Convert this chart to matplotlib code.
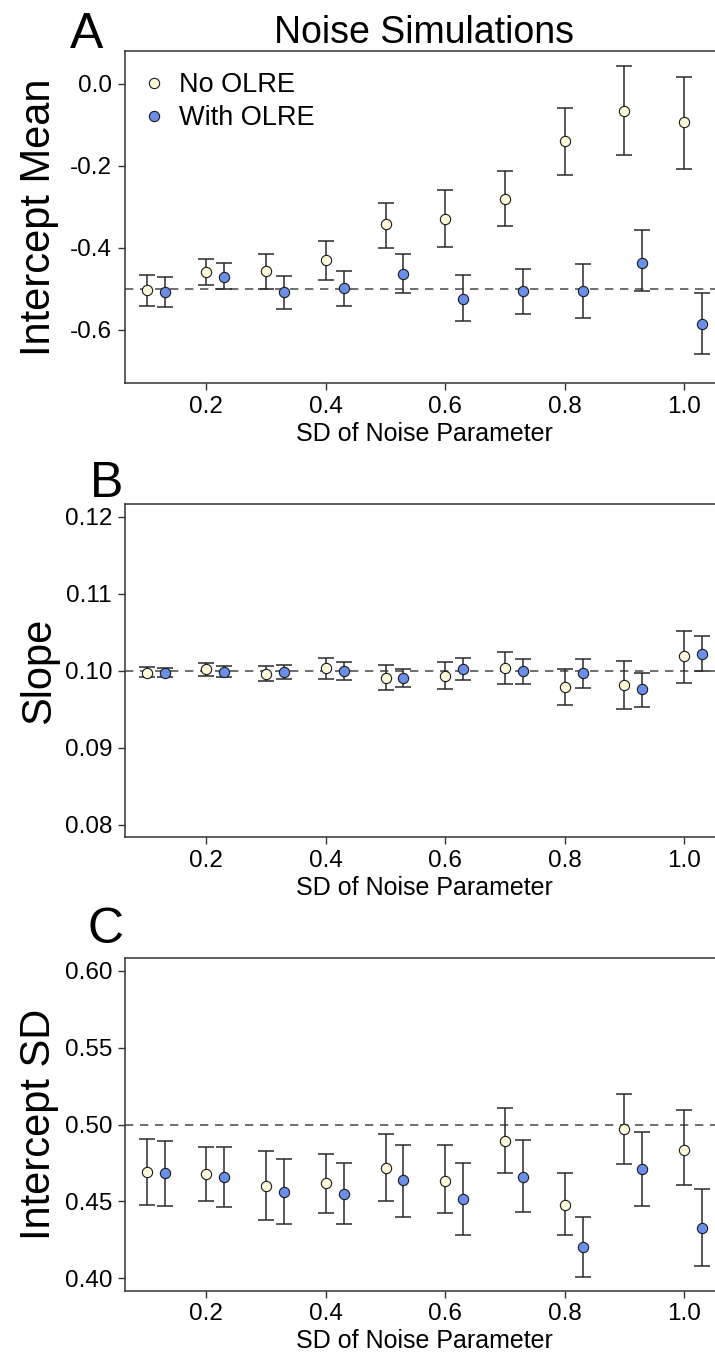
import matplotlib
matplotlib.use("Agg")
import matplotlib.pyplot as plt
from matplotlib.ticker import FixedLocator, FuncFormatter

plt.rcParams['font.family'] = ['Liberation Sans', 'DejaVu Sans']
plt.rcParams['axes.unicode_minus'] = False

# ---- data ----
noise_sd = [0.1, 0.2, 0.3, 0.4, 0.5, 0.6, 0.7, 0.8, 0.9, 1.0]
offset = 0.03

# Panel A: Intercept Mean
int_mean_no = [-0.502, -0.459, -0.457, -0.430, -0.342, -0.329, -0.282, -0.139, -0.066, -0.094]
int_mean_no_lo = [-0.542, -0.491, -0.500, -0.479, -0.401, -0.398, -0.348, -0.222, -0.173, -0.209]
int_mean_no_hi = [-0.466, -0.427, -0.415, -0.384, -0.290, -0.260, -0.213, -0.059, 0.043, 0.015]
int_mean_with = [-0.508, -0.470, -0.507, -0.499, -0.463, -0.525, -0.506, -0.506, -0.436, -0.586]
int_mean_with_lo = [-0.543, -0.501, -0.548, -0.542, -0.509, -0.578, -0.562, -0.572, -0.506, -0.658]
int_mean_with_hi = [-0.470, -0.438, -0.468, -0.456, -0.415, -0.467, -0.451, -0.439, -0.356, -0.509]

# Panel B: Slope
slope_no = [0.09972, 0.10015, 0.09955, 0.10028, 0.09907, 0.09937, 0.10032, 0.09790, 0.09820, 0.10184]
slope_no_lo = [0.09916, 0.09929, 0.09864, 0.09894, 0.09751, 0.09756, 0.09821, 0.09557, 0.09504, 0.09846]
slope_no_hi = [0.10041, 0.10102, 0.10054, 0.10162, 0.10067, 0.10115, 0.10240, 0.10024, 0.10128, 0.10517]
slope_with = [0.09972, 0.09985, 0.09976, 0.10000, 0.09907, 0.10024, 0.10000, 0.09963, 0.09756, 0.10214]
slope_with_lo = [0.09916, 0.09916, 0.09890, 0.09877, 0.09786, 0.09885, 0.09821, 0.09777, 0.09522, 0.09989]
slope_with_hi = [0.10032, 0.10058, 0.10071, 0.10106, 0.10024, 0.10166, 0.10154, 0.10149, 0.09963, 0.10452]

# Panel C: Intercept SD
int_sd_no = [0.4690, 0.4677, 0.4600, 0.4619, 0.4719, 0.4636, 0.4894, 0.4476, 0.4970, 0.4833]
int_sd_no_lo = [0.4478, 0.4504, 0.4381, 0.4422, 0.4506, 0.4424, 0.4682, 0.4279, 0.4745, 0.4606]
int_sd_no_hi = [0.4909, 0.4853, 0.4827, 0.4807, 0.4937, 0.4870, 0.5106, 0.4688, 0.5201, 0.5091]
int_sd_with = [0.4686, 0.4660, 0.4563, 0.4550, 0.4641, 0.4513, 0.4660, 0.4206, 0.4712, 0.4327]
int_sd_with_lo = [0.4470, 0.4461, 0.4351, 0.4353, 0.4400, 0.4279, 0.4429, 0.4011, 0.4472, 0.4082]
int_sd_with_hi = [0.4892, 0.4853, 0.4777, 0.4749, 0.4864, 0.4749, 0.4900, 0.4398, 0.4950, 0.4584]

x_ticks = [0.2, 0.4, 0.6, 0.8, 1.0]
x_tick_labels = ["0.2", "0.4", "0.6", "0.8", "1.0"]

panels = [
    dict(letter="A", ylabel="Intercept Mean", true=-0.5, ylim=(-0.73, 0.08),
         yticks=[-0.6, -0.4, -0.2, 0.0], yfmt="{:.1f}",
         no=(int_mean_no, int_mean_no_lo, int_mean_no_hi),
         wi=(int_mean_with, int_mean_with_lo, int_mean_with_hi),
         top=50.7, bottom=383.3, letter_xy=(70, 48)),
    dict(letter="B", ylabel="Slope", true=0.10, ylim=(0.0784, 0.1216),
         yticks=[0.08, 0.09, 0.10, 0.11, 0.12], yfmt="{:.2f}",
         no=(slope_no, slope_no_lo, slope_no_hi),
         wi=(slope_with, slope_with_lo, slope_with_hi),
         top=504.3, bottom=837.0, letter_xy=(90, 497)),
    dict(letter="C", ylabel="Intercept SD", true=0.50, ylim=(0.392, 0.608),
         yticks=[0.40, 0.45, 0.50, 0.55, 0.60], yfmt="{:.2f}",
         no=(int_sd_no, int_sd_no_lo, int_sd_no_hi),
         wi=(int_sd_with, int_sd_with_lo, int_sd_with_hi),
         top=958.3, bottom=1290.7, letter_xy=(88, 943)),
]

W, H = 715, 1354
fig = plt.figure(figsize=(W / 100, H / 100), dpi=100)

col_no = "#FFFADC"
col_with = "#6B8EE8"
edge = "#1a1a1a"
axcol = "#333333"

left_px, right_px = 124.5, 724.0


def make_fmt(fmt):
    def f(v, pos):
        s = fmt.format(v)
        if s.startswith("-") and float(s) == 0:
            s = s[1:]
        return s
    return f


for i, p in enumerate(panels):
    ax = fig.add_axes([left_px / W, 1 - p["bottom"] / H,
                       (right_px - left_px) / W, (p["bottom"] - p["top"]) / H])
    ax.set_xlim(0.0628, 1.067)
    ax.set_ylim(*p["ylim"])
    ax.axhline(p["true"], color="#555555", lw=1.2, ls=(0, (5, 4)), zorder=1)

    for series, xoff, col, lab in [(p["no"], 0.0, col_no, "No OLRE"),
                                   (p["wi"], offset, col_with, "With OLRE")]:
        m, lo, hi = series
        xs = [x + xoff for x in noise_sd]
        yerr = [[mm - l for mm, l in zip(m, lo)], [h - mm for mm, h in zip(m, hi)]]
        ax.errorbar(xs, m, yerr=yerr, fmt="none", ecolor="#2a2a2a",
                    elinewidth=1.1, capsize=5.5, capthick=1.1, zorder=2)
        ax.plot(xs, m, "o", ms=7.4, mfc=col, mec=edge, mew=0.8, zorder=3, label=lab)

    for s in ["left", "bottom", "top"]:
        ax.spines[s].set_color(axcol)
        ax.spines[s].set_linewidth(1.1)
    ax.spines["right"].set_visible(False)

    ax.xaxis.set_major_locator(FixedLocator(x_ticks))
    ax.set_xticklabels(x_tick_labels)
    ax.yaxis.set_major_locator(FixedLocator(p["yticks"]))
    ax.yaxis.set_major_formatter(FuncFormatter(make_fmt(p["yfmt"])))
    ax.tick_params(axis="both", direction="out", length=5, width=1.0, color=axcol,
                   labelsize=17.5, pad=4)
    ax.set_xlabel("SD of Noise Parameter", fontsize=18, labelpad=3)
    ax.set_ylabel(p["ylabel"], fontsize=30)
    ax.yaxis.set_label_coords(-(left_px - 59) / (right_px - left_px), 0.5)

    fig.text(p["letter_xy"][0] / W, 1 - p["letter_xy"][1] / H, p["letter"],
             fontsize=36, ha="left", va="baseline")

    if i == 0:
        ax.set_title("Noise Simulations", fontsize=27, pad=5)
        ax.legend(loc="upper left", bbox_to_anchor=(0.0, 1.0), frameon=False,
                  fontsize=19.5, handlelength=0.6, handletextpad=0.6,
                  labelspacing=0.25, borderaxespad=0.3, borderpad=0.5)

fig.savefig("out.png", dpi=100)
